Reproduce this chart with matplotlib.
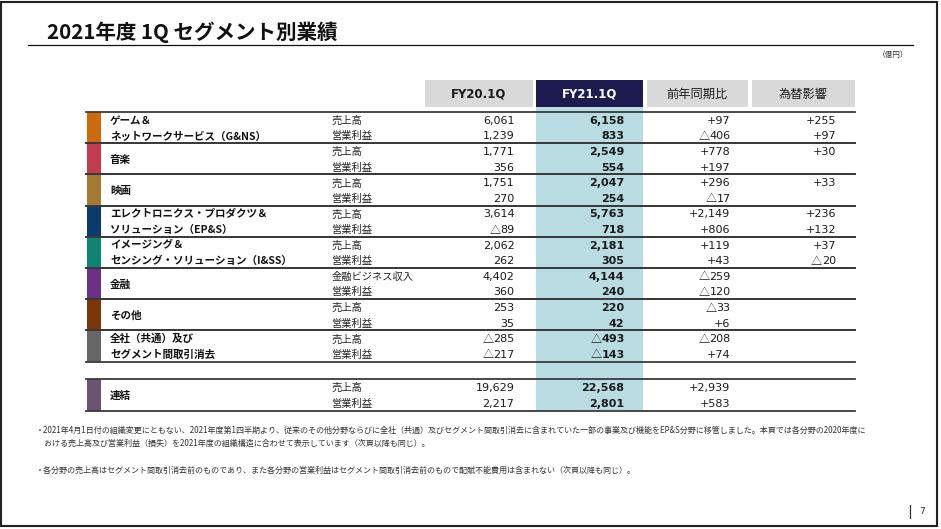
import matplotlib
matplotlib.use("Agg")
import matplotlib.pyplot as plt
from matplotlib.patches import Rectangle

# ---------------- data ----------------
title = "2021年度 1Q セグメント別業績"
unit = "（億円）"
col_headers = ["FY20.1Q", "FY21.1Q", "前年同期比", "為替影響"]
segments = [
    "ゲーム＆\nネットワークサービス（G&NS）",
    "音楽",
    "映画",
    "エレクトロニクス・プロダクツ＆\nソリューション（EP&S）",
    "イメージング＆\nセンシング・ソリューション（I&SS）",
    "金融",
    "その他",
    "全社（共通）及び\nセグメント間取引消去",
]
metric_1 = ["売上高", "売上高", "売上高", "売上高", "売上高", "金融ビジネス収入", "売上高", "売上高"]
metric_2 = ["営業利益"] * 8
seg_colors = ["#cc6a0c", "#c23b4f", "#a57a32", "#0a3a6e", "#0f8472",
              "#6a2f86", "#7a3508", "#666666"]

fy20_sales = [6061, 1771, 1751, 3614, 2062, 4402, 253, -285]
fy20_op = [1239, 356, 270, -89, 262, 360, 35, -217]
fy21_sales = [6158, 2549, 2047, 5763, 2181, 4144, 220, -493]
fy21_op = [833, 554, 254, 718, 305, 240, 42, -143]
yoy_sales = [97, 778, 296, 2149, 119, -259, -33, -208]
yoy_op = [-406, 197, -17, 806, 43, -120, 6, 74]
fx_sales = [255, 30, 33, 236, 37, None, None, None]
fx_op = [97, None, None, 132, -20, None, None, None]

total_label = "連結"
total_color = "#6b5372"
total_fy20 = [19629, 2217]
total_fy21 = [22568, 2801]
total_yoy = [2939, 583]
total_fx = [None, None]

notes = [
    "・2021年4月1日付の組織変更にともない、2021年度第1四半期より、従来のその他分野ならびに全社（共通）及びセグメント間取引消去に含まれていた一部の事業及び機能をEP&S分野に移管しました。本頁では各分野の2020年度に",
    "　おける売上高及び営業利益（損失）を2021年度の組織構造に合わせて表示しています（次頁以降も同じ）。",
    "・各分野の売上高はセグメント間取引消去前のものであり、また各分野の営業利益はセグメント間取引消去前のもので配賦不能費用は含まれない（次頁以降も同じ）。",
]
page_no = "7"

# ---------------- helpers ----------------
JP = ["Noto Sans CJK JP", "DejaVu Sans"]
NUM = ["DejaVu Sans", "Noto Sans CJK JP"]

W, H = 941, 529
fig = plt.figure(figsize=(W / 100, H / 100), dpi=100)
ax = fig.add_axes([0, 0, 1, 1])
ax.set_xlim(0, W)
ax.set_ylim(H, 0)
ax.axis("off")
renderer = fig.canvas.get_renderer()


def put_num(xr, y, v, sign=False, bold=False, fs=8.0):
    if v is None:
        return
    wt = "bold" if bold else "normal"
    if v < 0:
        t = ax.text(xr, y, "{:,}".format(-v), family=NUM, fontsize=fs, fontweight=wt,
                    ha="right", va="center", color="#1a1a1a")
        bb = t.get_window_extent(renderer)
        xl = ax.transData.inverted().transform((bb.x0, bb.y0))[0]
        ax.text(xl + 0.3, y + 0.6, "△", family=JP, fontsize=fs, ha="right", va="center",
                color="#1a1a1a")
    else:
        s = ("+" if sign else "") + "{:,}".format(v)
        ax.text(xr, y, s, family=NUM, fontsize=fs, fontweight=wt,
                ha="right", va="center", color="#1a1a1a")


# outer frame
ax.add_patch(Rectangle((1.5, 1.5), 935.5, 524.5, fill=False, ec="#222222", lw=1.5))

# title
ax.text(47, 32, title, family=JP, fontsize=14.8, fontweight="bold", va="center", ha="left", color="#111111")
ax.plot([28, 913], [44.5, 44.5], color="#111111", lw=0.9)
ax.text(908, 54.5, unit, family=JP, fontsize=5.5, va="center", ha="right", color="#333333")

# header boxes
box_x = [(425, 533), (536, 643), (647, 748), (752, 855)]
box_fc = ["#d9d9d9", "#1d1a4f", "#d9d9d9", "#d9d9d9"]
box_tc = ["#1a1a1a", "#ffffff", "#1a1a1a", "#1a1a1a"]
for (x0, x1), fc, tc, lab in zip(box_x, box_fc, box_tc, col_headers):
    ax.add_patch(Rectangle((x0, 80), x1 - x0, 26.7, fc=fc, ec="none"))
    if lab.startswith("FY"):
        ax.text((x0 + x1) / 2, 94, lab, family=NUM, fontsize=8.5, fontweight="bold",
                ha="center", va="center", color=tc)
    else:
        ax.text((x0 + x1) / 2, 94, lab, family=JP, fontsize=8.8,
                ha="center", va="center", color=tc)

# highlighted FY21 column band
ax.add_patch(Rectangle((536, 107), 107, 304, fc="#b8dce2", ec="none", zorder=0))

# table geometry
top0 = 112.0
seg_h = 31.2
tot_top = 379.3
line_x0, line_x1 = 86, 855
bar_x0, bar_w = 87, 14.5
label_x = 110
metric_x = 331.5
num_right = [514.5, 624.5, 730.5, 836]


def draw_block(t, color, name, m1, m2, cols):
    ax.add_patch(Rectangle((bar_x0, t), bar_w, seg_h, fc=color, ec="none", zorder=1))
    r1, r2 = t + 8.8, t + 24.4
    lines = name.split("\n")
    if len(lines) == 2:
        ax.text(label_x, r1, lines[0], family=JP, fontsize=7.6, fontweight="bold", va="center", color="#111111")
        ax.text(label_x, r2, lines[1], family=JP, fontsize=7.6, fontweight="bold", va="center", color="#111111")
    else:
        ax.text(label_x, t + seg_h / 2 + 1, name, family=JP, fontsize=7.6, fontweight="bold", va="center", color="#111111")
    ax.text(metric_x, r1, m1, family=JP, fontsize=7.4, va="center", color="#222222")
    ax.text(metric_x, r2, m2, family=JP, fontsize=7.4, va="center", color="#222222")
    for j, (v1, v2) in enumerate(cols):
        put_num(num_right[j], r1, v1, sign=j >= 2, bold=j == 1)
        put_num(num_right[j], r2, v2, sign=j >= 2, bold=j == 1)
    ax.plot([line_x0, line_x1], [t, t], color="#3a3a3a", lw=1.3, zorder=3)
    ax.plot([line_x0, line_x1], [t + seg_h, t + seg_h], color="#3a3a3a", lw=1.3, zorder=3)


for i, name in enumerate(segments):
    t = top0 + i * seg_h
    draw_block(t, seg_colors[i], name, metric_1[i], metric_2[i],
               [(fy20_sales[i], fy20_op[i]), (fy21_sales[i], fy21_op[i]),
                (yoy_sales[i], yoy_op[i]), (fx_sales[i], fx_op[i])])

draw_block(tot_top, total_color, total_label, "売上高", "営業利益",
           [tuple(total_fy20), tuple(total_fy21), tuple(total_yoy), tuple(total_fx)])

# footnotes
note_y = [430.5, 443, 470]
for y, s in zip(note_y, notes):
    ax.text(36, y, s, family=JP, fontsize=5.8, va="center", ha="left", color="#333333")

# page number
ax.plot([910, 910], [505, 518], color="#333333", lw=0.9)
ax.text(919, 512, page_no, family=NUM, fontsize=6.5, va="center", ha="left", color="#333333")

fig.savefig("out.png", dpi=100)
